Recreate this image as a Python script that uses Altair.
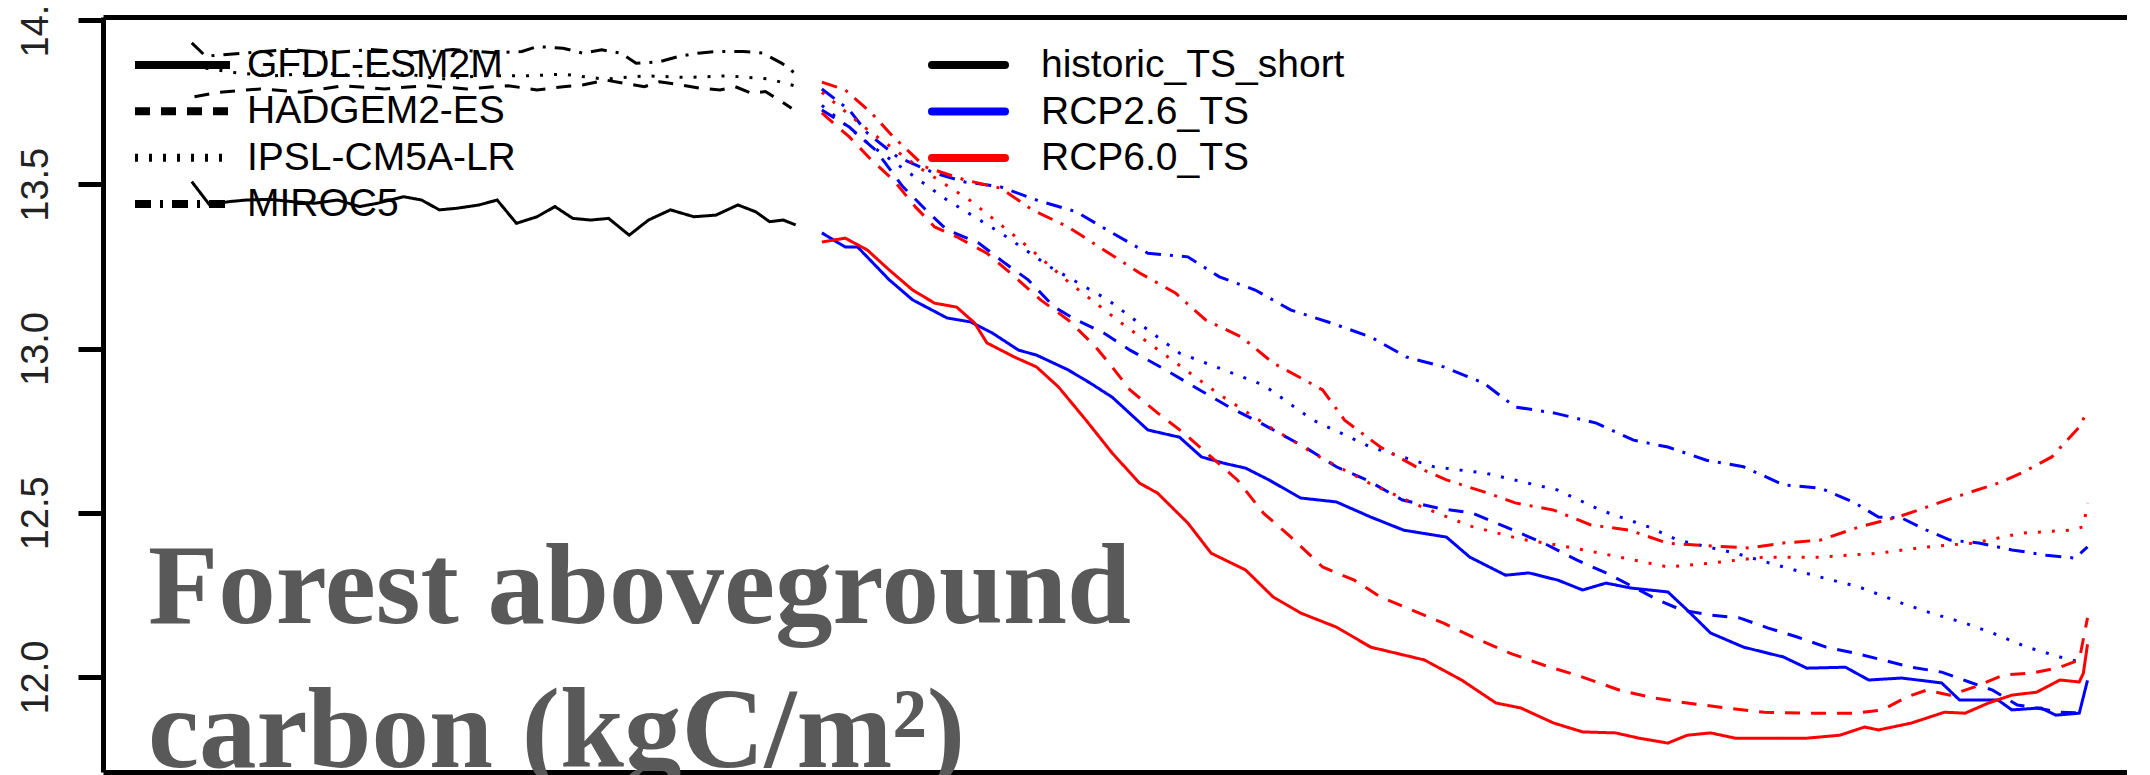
import altair as alt
import pandas as pd

models = ["GFDL-ESM2M", "HADGEM2-ES", "IPSL-CM5A-LR", "MIROC5"]
scenarios = ["historic_TS_short", "RCP2.6_TS", "RCP6.0_TS"]
colors = ["#000000", "#0000FF", "#FF0000"]
dashes = [[1, 0], [15, 11], [3, 11], [16, 9, 3, 9]]

y_ticks = [12.0, 12.5, 13.0, 13.5, 14.0]
x_ticks = [1960, 1980, 2000, 2020, 2040, 2060, 2080, 2100]

# ---------------- historic ----------------
hist_gfdl_years = [1961.0, 1962.3, 1963.7, 1965.0, 1966.7, 1968.3, 1969.9, 1971.6, 1973.2, 1974.5,
                   1976.4, 1977.7, 1979.0, 1980.3, 1981.9, 1983.2, 1984.6, 1986.1, 1987.4, 1988.7,
                   1990.0, 1991.3, 1992.8, 1994.2, 1995.8, 1997.5, 1999.1, 2000.7, 2002.0, 2003.0,
                   2004.0, 2004.9]
hist_gfdl_vals = [13.508, 13.437, 13.447, 13.452, 13.454, 13.447, 13.442, 13.452, 13.432, 13.442,
                  13.462, 13.452, 13.422, 13.427, 13.437, 13.452, 13.381, 13.401, 13.432, 13.396,
                  13.391, 13.396, 13.345, 13.391, 13.422, 13.401, 13.406, 13.437, 13.416, 13.386,
                  13.391, 13.376]

hist_hadgem_years = [1961.2, 1963.0, 1966.0, 1969.0, 1972.0, 1975.0, 1978.0, 1981.0, 1984.0, 1986.1,
                     1988.0, 1989.4, 1991.1, 1992.5, 1993.9, 1995.0, 1996.6, 1998.0, 1999.4, 2000.5,
                     2001.7, 2002.7, 2003.9, 2004.6]
hist_hadgem_vals = [13.766, 13.78, 13.79, 13.78, 13.80, 13.79, 13.80, 13.79, 13.80, 13.787,
                    13.797, 13.802, 13.817, 13.807, 13.797, 13.812, 13.802, 13.792, 13.787, 13.797,
                    13.777, 13.782, 13.751, 13.731]

hist_ipsl_years = [1961.0, 1964.0, 1967.0, 1970.0, 1973.0, 1976.0, 1979.0, 1982.0, 1985.5, 1988.0,
                   1991.0, 1994.0, 1997.0, 2000.0, 2003.0, 2004.8]
hist_ipsl_vals = [13.86, 13.84, 13.83, 13.84, 13.83, 13.84, 13.82, 13.83, 13.83, 13.835,
                  13.82, 13.83, 13.825, 13.83, 13.82, 13.80]

hist_miroc_years = [1961.0, 1962.0, 1965.0, 1968.0, 1971.0, 1974.0, 1977.0, 1980.0, 1983.0, 1985.0,
                    1986.1, 1988.0, 1989.4, 1990.8, 1992.2, 1993.3, 1995.0, 1996.3, 1997.8, 1999.2,
                    2001.1, 2002.5, 2003.9, 2005.0]
hist_miroc_vals = [13.93, 13.89, 13.90, 13.91, 13.90, 13.91, 13.90, 13.91, 13.90, 13.904,
                   13.919, 13.914, 13.899, 13.909, 13.899, 13.868, 13.873, 13.888, 13.899, 13.904,
                   13.904, 13.899, 13.868, 13.833]

# ---------------- GFDL ----------------
rcp26_gfdl_years = [2006.8, 2008.5, 2009.4, 2011.7, 2013.4, 2015.9, 2017.6, 2019.2, 2021.1, 2022.4,
                    2024.7, 2026.3, 2027.9, 2030.5, 2032.8, 2034.4, 2036.0, 2037.6, 2039.3, 2041.6,
                    2044.2, 2046.7, 2049.1, 2052.2, 2053.9, 2056.5, 2058.2, 2060.3, 2062.1, 2063.8,
                    2065.6, 2068.3, 2069.7, 2071.4, 2073.8, 2076.7, 2078.4, 2081.2, 2082.9, 2085.3,
                    2088.2, 2089.5, 2092.3, 2093.3, 2095.4, 2096.5, 2098.2, 2098.8]
rcp26_gfdl_vals = [13.352, 13.309, 13.309, 13.209, 13.148, 13.093, 13.081, 13.047, 12.995, 12.980,
                   12.935, 12.895, 12.852, 12.752, 12.73, 12.67, 12.651, 12.636, 12.60, 12.545,
                   12.533, 12.487, 12.447, 12.426, 12.365, 12.31, 12.317, 12.295, 12.265, 12.286,
                   12.271, 12.259, 12.204, 12.134, 12.091, 12.061, 12.027, 12.030, 11.991, 11.997,
                   11.982, 11.930, 11.930, 11.90, 11.906, 11.884, 11.890, 11.99]

rcp60_gfdl_years = [2006.8, 2008.5, 2010.1, 2011.7, 2013.4, 2015.0, 2016.6, 2017.9, 2018.8, 2020.8,
                    2022.4, 2024.0, 2026.0, 2027.9, 2029.9, 2031.2, 2033.4, 2035.1, 2037.6, 2039.6,
                    2041.6, 2044.2, 2046.7, 2050.6, 2053.3, 2055.8, 2057.6, 2060.0, 2062.1, 2064.5,
                    2066.2, 2068.3, 2069.7, 2071.4, 2073.2, 2075.3, 2078.4, 2080.8, 2082.6, 2083.6,
                    2086.0, 2088.4, 2089.9, 2091.6, 2093.3, 2095.1, 2096.8, 2098.2, 2098.5, 2098.8]
rcp60_gfdl_vals = [13.324, 13.336, 13.30, 13.239, 13.178, 13.138, 13.126, 13.078, 13.017, 12.974,
                   12.944, 12.883, 12.782, 12.682, 12.59, 12.56, 12.469, 12.377, 12.326, 12.244,
                   12.195, 12.152, 12.091, 12.052, 11.991, 11.921, 11.906, 11.86, 11.833, 11.830,
                   11.814, 11.799, 11.823, 11.830, 11.814, 11.814, 11.814, 11.823, 11.848, 11.839,
                   11.86, 11.893, 11.89, 11.921, 11.945, 11.954, 11.991, 11.985, 12.012, 12.10]

# ---------------- HADGEM ----------------
rcp26_hadgem_years = [2006.8, 2008.8, 2010.7, 2012.7, 2014.6, 2015.9, 2018.2, 2020.1, 2021.8, 2023.7,
                      2025.3, 2027.3, 2029.2, 2031.8, 2033.4, 2036.4, 2038.7, 2041.9, 2044.2, 2046.4,
                      2049.0, 2051.6, 2054.1, 2056.5, 2059.3, 2061.7, 2063.8, 2065.8, 2067.6, 2069.3,
                      2071.4, 2073.5, 2075.6, 2077.7, 2079.8, 2081.9, 2083.9, 2086.0, 2088.2, 2090.2,
                      2091.9, 2093.7, 2095.1, 2096.8, 2098.5]
rcp26_hadgem_vals = [13.726, 13.674, 13.604, 13.492, 13.412, 13.361, 13.321, 13.26, 13.209, 13.126,
                     13.087, 13.047, 12.995, 12.935, 12.895, 12.822, 12.773, 12.70, 12.64, 12.60,
                     12.539, 12.514, 12.499, 12.457, 12.407, 12.356, 12.317, 12.274, 12.234, 12.204,
                     12.189, 12.18, 12.149, 12.122, 12.091, 12.073, 12.052, 12.03, 12.015, 11.985,
                     11.96, 11.915, 11.906, 11.893, 11.89]

rcp60_hadgem_years = [2006.8, 2008.8, 2010.4, 2012.0, 2013.6, 2015.0, 2016.6, 2018.8, 2020.5, 2022.7,
                      2024.7, 2026.7, 2027.9, 2029.2, 2031.2, 2033.1, 2035.1, 2037.0, 2038.9, 2040.9,
                      2043.2, 2045.5, 2047.4, 2049.7, 2052.0, 2054.1, 2056.8, 2059.3, 2062.1, 2064.8,
                      2067.3, 2069.7, 2072.5, 2075.3, 2078.4, 2081.9, 2083.9, 2085.7, 2087.1, 2088.8,
                      2090.6, 2092.7, 2094.8, 2096.8, 2098.2, 2098.8]
rcp60_hadgem_vals = [13.717, 13.644, 13.574, 13.513, 13.431, 13.37, 13.34, 13.29, 13.23, 13.148,
                     13.087, 13.005, 12.944, 12.874, 12.804, 12.743, 12.67, 12.60, 12.499, 12.426,
                     12.335, 12.295, 12.244, 12.204, 12.164, 12.122, 12.073, 12.036, 12.0, 11.96,
                     11.936, 11.921, 11.906, 11.893, 11.89, 11.89, 11.90, 11.94, 11.96, 11.945,
                     11.97, 12.006, 12.012, 12.03, 12.052, 12.18]

# ---------------- IPSL ----------------
rcp26_ipsl_years = [2006.8, 2010.3, 2015.9, 2019.8, 2023.4, 2027.6, 2031.2, 2032.8, 2038.9, 2042.5,
                    2046.7, 2051.3, 2055.1, 2060.3, 2063.4, 2066.9, 2069.0, 2073.2, 2076.7, 2079.4,
                    2082.2, 2085.3, 2087.4, 2089.9, 2091.9, 2094.4, 2096.8, 2098.5]
rcp26_ipsl_vals = [13.74, 13.62, 13.452, 13.352, 13.248, 13.148, 13.035, 12.986, 12.889, 12.782,
                   12.70, 12.64, 12.62, 12.569, 12.508, 12.457, 12.417, 12.377, 12.335, 12.304,
                   12.274, 12.225, 12.195, 12.164, 12.134, 12.091, 12.061, 12.043]

rcp60_ipsl_years = [2006.8, 2010.3, 2013.9, 2017.6, 2021.2, 2024.8, 2028.5, 2032.1, 2035.7, 2039.4,
                    2043.0, 2046.6, 2050.3, 2053.9, 2057.6, 2060.5, 2063.4, 2068.3, 2071.4, 2075.3,
                    2079.4, 2083.6, 2087.1, 2090.6, 2094.0, 2097.5, 2098.5, 2098.8]
rcp60_ipsl_vals = [13.78, 13.66, 13.55, 13.45, 13.33, 13.20, 13.08, 12.97, 12.86, 12.76,
                   12.67, 12.59, 12.52, 12.46, 12.42, 12.40, 12.377, 12.335, 12.347, 12.365,
                   12.365, 12.377, 12.396, 12.408, 12.438, 12.447, 12.457, 12.53]

# ---------------- MIROC ----------------
rcp26_miroc_years = [2006.8, 2008.8, 2010.1, 2012.3, 2015.0, 2017.2, 2019.8, 2022.4, 2025.3, 2027.9,
                     2030.5, 2033.4, 2035.7, 2038.3, 2040.9, 2043.8, 2046.7, 2049.3, 2052.0, 2054.9,
                     2057.2, 2060.0, 2063.1, 2065.8, 2068.3, 2071.1, 2073.8, 2076.7, 2079.4, 2081.9,
                     2083.6, 2085.3, 2087.1, 2088.8, 2090.9, 2093.3, 2095.8, 2097.9, 2098.8]
rcp26_miroc_vals = [13.79, 13.726, 13.656, 13.583, 13.534, 13.507, 13.492, 13.452, 13.416, 13.352,
                    13.29, 13.279, 13.218, 13.178, 13.117, 13.078, 13.035, 12.974, 12.944, 12.895,
                    12.822, 12.804, 12.773, 12.721, 12.70, 12.66, 12.64, 12.585, 12.575, 12.53,
                    12.487, 12.484, 12.447, 12.417, 12.408, 12.387, 12.371, 12.362, 12.396]

rcp60_miroc_years = [2006.8, 2008.5, 2010.4, 2012.0, 2014.3, 2017.2, 2019.8, 2022.1, 2024.7, 2027.3,
                     2029.9, 2032.5, 2034.7, 2037.3, 2039.6, 2041.9, 2043.2, 2044.8, 2047.4, 2050.0,
                     2052.2, 2055.2, 2057.2, 2060.0, 2062.7, 2065.5, 2068.3, 2071.1, 2074.2, 2076.7,
                     2079.4, 2082.2, 2085.0, 2087.1, 2089.2, 2092.3, 2094.0, 2096.2, 2098.2, 2098.8]
rcp60_miroc_vals = [13.811, 13.787, 13.717, 13.644, 13.553, 13.513, 13.488, 13.422, 13.37, 13.30,
                    13.23, 13.169, 13.087, 13.035, 12.956, 12.904, 12.874, 12.782, 12.70, 12.64,
                    12.60, 12.56, 12.53, 12.508, 12.463, 12.447, 12.407, 12.40, 12.393, 12.408,
                    12.417, 12.457, 12.487, 12.517, 12.548, 12.59, 12.621, 12.67, 12.761, 12.81]

series_list = [
    ("GFDL-ESM2M", "historic_TS_short", hist_gfdl_years, hist_gfdl_vals),
    ("HADGEM2-ES", "historic_TS_short", hist_hadgem_years, hist_hadgem_vals),
    ("IPSL-CM5A-LR", "historic_TS_short", hist_ipsl_years, hist_ipsl_vals),
    ("MIROC5", "historic_TS_short", hist_miroc_years, hist_miroc_vals),
    ("GFDL-ESM2M", "RCP2.6_TS", rcp26_gfdl_years, rcp26_gfdl_vals),
    ("HADGEM2-ES", "RCP2.6_TS", rcp26_hadgem_years, rcp26_hadgem_vals),
    ("IPSL-CM5A-LR", "RCP2.6_TS", rcp26_ipsl_years, rcp26_ipsl_vals),
    ("MIROC5", "RCP2.6_TS", rcp26_miroc_years, rcp26_miroc_vals),
    ("GFDL-ESM2M", "RCP6.0_TS", rcp60_gfdl_years, rcp60_gfdl_vals),
    ("HADGEM2-ES", "RCP6.0_TS", rcp60_hadgem_years, rcp60_hadgem_vals),
    ("IPSL-CM5A-LR", "RCP6.0_TS", rcp60_ipsl_years, rcp60_ipsl_vals),
    ("MIROC5", "RCP6.0_TS", rcp60_miroc_years, rcp60_miroc_vals),
]

rows = []
for order, (m, s, ys, vs) in enumerate(series_list):
    n = min(len(ys), len(vs))
    for yr, v in zip(ys[:n], vs[:n]):
        rows.append({"year": yr, "value": v, "model": m, "scenario": s,
                     "series": f"{order:02d}|{m}|{s}"})
df = pd.DataFrame(rows)

annotation = ["Forest aboveground\ncarbon (kgC/m\u00b2)"]

xscale = alt.Scale(domain=[1954.55, 2101.67], nice=False, zero=False)
yscale = alt.Scale(domain=[11.711, 14.009], nice=False, zero=False)
dash_scale = alt.Scale(domain=models, range=dashes)
color_scale = alt.Scale(domain=scenarios, range=colors)

LABEL_FONT = "Liberation Sans"
LEGEND_SIZE = 39

lines = alt.Chart(df).mark_line(strokeWidth=3, strokeCap="butt", clip=True).encode(
    x=alt.X("year:Q", scale=xscale,
            axis=alt.Axis(orient="bottom", values=x_ticks, labels=False, title=None,
                          tickSize=25, tickWidth=5, tickColor="black",
                          domainWidth=5, domainColor="black", grid=False)),
    y=alt.Y("value:Q", scale=yscale,
            axis=alt.Axis(orient="left", values=y_ticks, format=".1f", title=None,
                          labelAngle=270, labelAlign="center", labelBaseline="alphabetic",
                          labelFont=LABEL_FONT, labelFontSize=38, labelColor="#222222",
                          labelPadding=31, tickSize=25, tickWidth=5, tickColor="black",
                          domainWidth=5, domainColor="black", grid=False)),
    color=alt.Color("scenario:N", scale=color_scale, legend=None),
    strokeDash=alt.StrokeDash("model:N", scale=dash_scale, legend=None),
    detail="series:N",
)

top_frame = alt.Chart(df).mark_line(opacity=0).encode(
    x=alt.X("year:Q", scale=xscale,
            axis=alt.Axis(orient="top", labels=False, ticks=False, title=None,
                          domainWidth=5, domainColor="black", grid=False)),
    y=alt.Y("value:Q", scale=yscale, axis=None),
    detail="series:N",
)

label = alt.Chart(pd.DataFrame({"label": annotation})).mark_text(
    font="Liberation Serif", fontWeight="bold", fontSize=115, color="#595959",
    align="left", baseline="alphabetic", lineBreak="\n", lineHeight=144,
).encode(text="label:N", x=alt.value(45), y=alt.value(606))

# ---- legend: models (line types) ----
model_df = pd.DataFrame({"model": models})
model_row = alt.Y("model:N", scale=alt.Scale(type="point", domain=models, range=[48, 187],
                                             padding=0), axis=None)
leg_model_sym = alt.Chart(model_df).mark_rule(strokeWidth=8, strokeCap="butt",
                                              color="black").encode(
    x=alt.value(32), x2=alt.value(127), y=model_row,
    strokeDash=alt.StrokeDash("model:N", scale=dash_scale, legend=None),
)
leg_model_txt = alt.Chart(model_df).mark_text(
    align="left", baseline="middle", font=LABEL_FONT, fontSize=LEGEND_SIZE, color="black",
).encode(x=alt.value(144), y=model_row, text="model:N")

# ---- legend: scenarios (colours) ----
scen_df = pd.DataFrame({"scenario": scenarios})
scen_row = alt.Y("scenario:N", scale=alt.Scale(type="point", domain=scenarios,
                                               range=[48, 141], padding=0), axis=None)
leg_scen_sym = alt.Chart(scen_df).mark_rule(strokeWidth=8, strokeCap="round").encode(
    x=alt.value(829), x2=alt.value(902), y=scen_row,
    color=alt.Color("scenario:N", scale=color_scale, legend=None),
)
leg_scen_txt = alt.Chart(scen_df).mark_text(
    align="left", baseline="middle", font=LABEL_FONT, fontSize=LEGEND_SIZE, color="black",
).encode(x=alt.value(938), y=scen_row, text="scenario:N")

chart = alt.layer(
    lines, top_frame, label, leg_model_sym, leg_model_txt, leg_scen_sym, leg_scen_txt
).resolve_axis(
    x="independent", y="independent"
).resolve_scale(y="independent").properties(
    width=2024, height=755,
    autosize=alt.AutoSizeParams(type="none"),
    padding={"left": 95, "top": 9, "right": 0, "bottom": 6},
).configure_view(stroke=None).configure(background="white")

chart.save("out.html", embed_options={"renderer": "svg", "actions": False})
